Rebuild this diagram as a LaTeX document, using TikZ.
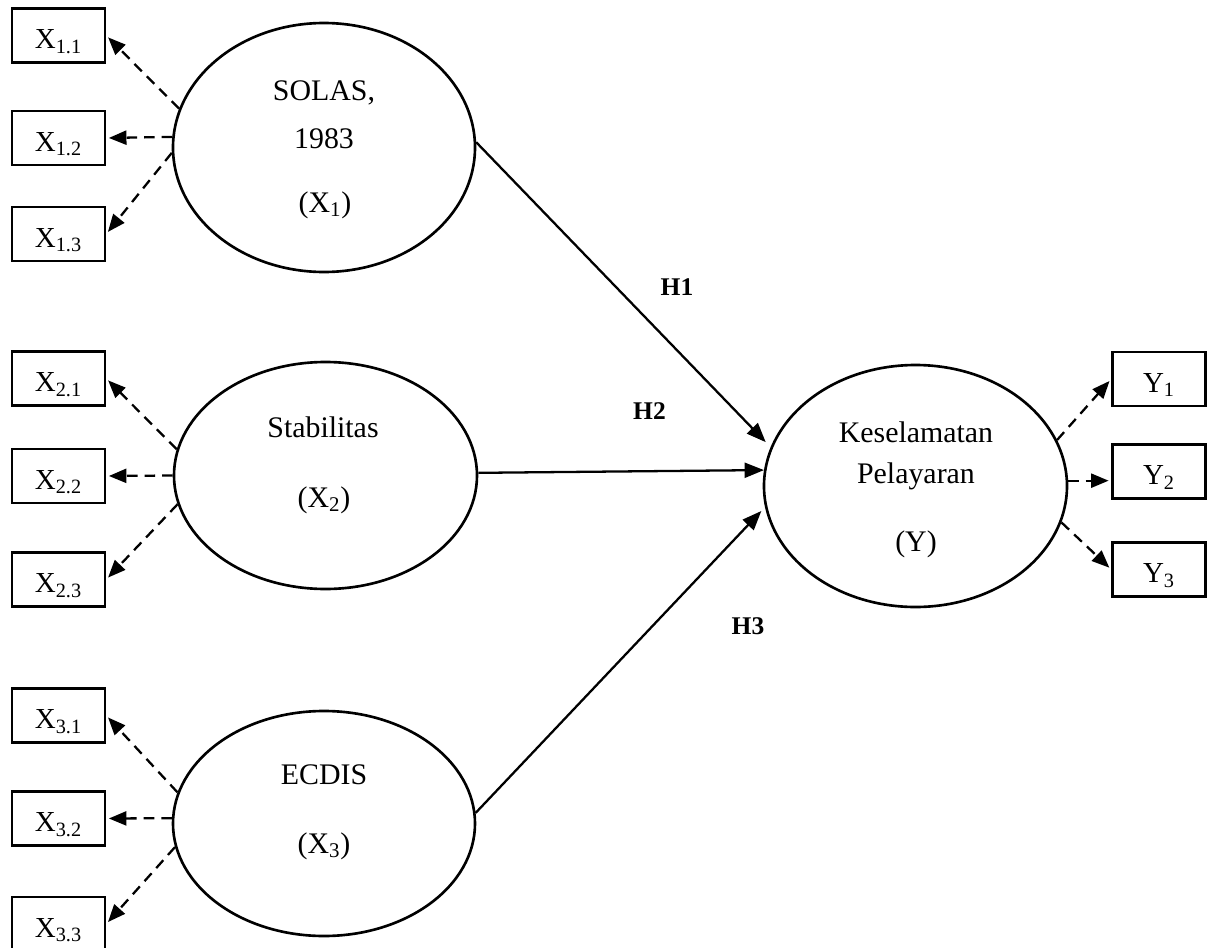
\documentclass[tikz,border=0pt]{standalone}
\usepackage{fontspec}
\setmainfont{Liberation Serif}
\usetikzlibrary{arrows.meta,shapes.geometric}

\tikzset{
	latent/.style={draw, ellipse, line width=1.5pt, inner sep=0pt, minimum width=6.04cm},
	indicator/.style={draw, rectangle, line width=1.4pt, inner sep=0pt, minimum width=1.86cm, minimum height=1.08cm, text height=15pt, text depth=0pt, font=\fontsize{16.5}{18}\selectfont},
	lvtext/.style={anchor=base, inner sep=0pt, font=\fontsize{17}{20}\selectfont},
	hyp/.style={inner sep=0pt, font=\fontsize{14.5}{16}\selectfont\bfseries},
	load/.style={-{Triangle[length=10pt,width=8pt]}, line width=1.3pt, dash pattern=on 6pt off 4pt, shorten >=1.5pt},
	effect/.style={-{Triangle[length=11pt,width=8.5pt]}, line width=1.3pt}
}

\begin{document}
\begin{tikzpicture}
		\useasboundingbox (0, 0) rectangle (24.32, -18.96);
		% latent variables
		\node[latent, minimum height=4.98cm] (s1) at (6.48, -2.95) {};
		\node[latent, minimum height=4.54cm, minimum width=6.06cm] (s2) at (6.51, -9.51) {};
		\node[latent, minimum height=4.50cm] (s3) at (6.48, -16.47) {};
		\node[latent, minimum height=4.84cm, minimum width=6.06cm] (ky) at (18.31, -9.72) {};
		\node[lvtext] (s1a) at (6.48, -2.00) {SOLAS,};
		\node[lvtext] (s1b) at (6.48, -2.96) {1983};
		\node[lvtext] (s1c) at (6.50, -4.24) {(X\textsubscript{1})};
		\node[lvtext] (s2a) at (6.46, -8.74) {Stabilitas};
		\node[lvtext] (s2b) at (6.48, -10.14) {(X\textsubscript{2})};
		\node[lvtext] (s3a) at (6.48, -15.68) {ECDIS};
		\node[lvtext] (s3b) at (6.48, -17.06) {(X\textsubscript{3})};
		\node[lvtext] (kya) at (18.32, -8.84) {Keselamatan};
		\node[lvtext] (kyb) at (18.32, -9.66) {Pelayaran};
		\node[lvtext] (kyc) at (18.32, -11.02) {(Y)};
		% indicators
		\foreach \i/\y in {1/0.71, 2/2.76, 3/4.68}{
			\node[indicator] (x1\i) at (1.17, -\y) {X\textsubscript{1.\i}};
		}
		\foreach \i/\y in {1/7.57, 2/9.52, 3/11.59}{
			\node[indicator] (x2\i) at (1.17, -\y) {X\textsubscript{2.\i}};
		}
		\foreach \i/\y in {1/14.31, 2/16.37, 3/18.48}{
			\node[indicator] (x3\i) at (1.17, -\y) {X\textsubscript{3.\i}};
		}
		\foreach \i/\y in {1/7.58, 2/9.43, 3/11.39}{
			\node[indicator] (y\i) at (23.18, -\y) {Y\textsubscript{\i}};
		}
		% loadings
		\foreach \i/\a in {1/165, 2/176, 3/182}{
			\draw[load] (s1.\a) -- (x1\i.east);
		}
		\foreach \i/\a in {1/170, 2/180, 3/191}{
			\draw[load] (s2.\a) -- (x2\i.east);
		}
		\foreach \i/\a in {1/168, 2/178, 3/189}{
			\draw[load] (s3.\a) -- (x3\i.east);
		}
		\draw[load] (ky.18) -- (y1.west);
		\draw[load] (ky.2) -- (ky.2 -| y2.west);
		\draw[load] (ky.-14) -- (y3.west);
		% hypotheses
		\draw[effect, shorten >=4pt] (s1.2) -- (ky.165);
		\draw[effect] (s2.1) -- (ky.174);
		\draw[effect, shorten >=3pt] (s3.4) -- (ky.188);
		\node[hyp] (h1) at (13.54, -5.74) {H1};
		\node[hyp] (h2) at (12.99, -8.23) {H2};
		\node[hyp] (h3) at (14.96, -12.52) {H3};
	\end{tikzpicture}
\end{document}
